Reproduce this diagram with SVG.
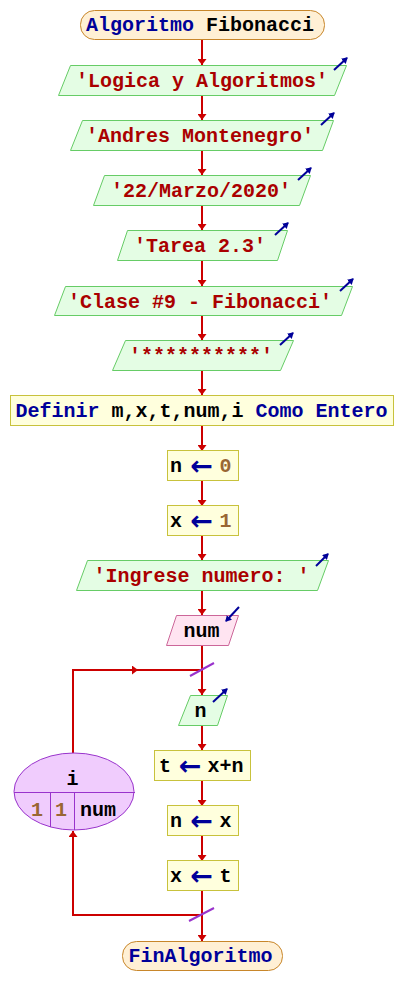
<svg xmlns="http://www.w3.org/2000/svg" width="404" height="1005" viewBox="0 0 404 1005">
<style>
.t{font-family:"Liberation Mono","Courier New",monospace;font-size:20px;font-weight:bold}
.kw{fill:#000099}.str{fill:#aa0000}.num{fill:#996633}.id{fill:#000000}
.arr{font-family:"DejaVu Sans",sans-serif;font-size:27px;font-weight:bold;fill:#000099}
.io{fill:#e4fde4;stroke:#66cc66;stroke-width:1}
.proc{fill:#ffffdd;stroke:#c8c23c;stroke-width:1}
.term{fill:#fff0d5;stroke:#c8862a;stroke-width:1}
.inp{fill:#ffe4f1;stroke:#cc6699;stroke-width:1}
.loop{fill:#f0ccfd;stroke:#9933cc;stroke-width:1}
.edge{fill:none;stroke:#cc0000;stroke-width:2}
.icon{fill:none;stroke:#000099;stroke-width:2;marker-end:url(#ih)}
.slash{stroke:#9933cc;stroke-width:2}
</style>
<defs>
<marker id="ah" viewBox="0 0 6 9" refX="6" refY="4.5" markerWidth="6" markerHeight="9" markerUnits="userSpaceOnUse" orient="auto"><path d="M0,0 L6,4.5 L0,9 z" fill="#cc0000"/></marker>
<marker id="ih" viewBox="0 0 6 7" refX="5" refY="3.5" markerWidth="6" markerHeight="7" markerUnits="userSpaceOnUse" orient="auto"><path d="M0,0 L6,3.5 L0,7 z" fill="#000099"/></marker>
</defs>

<g id="connectors">
<path class="edge" marker-end="url(#ah)" d="M202,39 V65"/>
<path class="edge" marker-end="url(#ah)" d="M202,95 V120"/>
<path class="edge" marker-end="url(#ah)" d="M202,150 V175"/>
<path class="edge" marker-end="url(#ah)" d="M202,205 V230"/>
<path class="edge" marker-end="url(#ah)" d="M202,260 V286"/>
<path class="edge" marker-end="url(#ah)" d="M202,315 V340"/>
<path class="edge" marker-end="url(#ah)" d="M202,370 V395"/>
<path class="edge" marker-end="url(#ah)" d="M202,425 V451"/>
<path class="edge" marker-end="url(#ah)" d="M202,481 V506"/>
<path class="edge" marker-end="url(#ah)" d="M202,536 V560"/>
<path class="edge" marker-end="url(#ah)" d="M202,590 V615"/>
<path class="edge" marker-end="url(#ah)" d="M202,645 V695"/>
<path class="edge" marker-end="url(#ah)" d="M202,725 V750"/>
<path class="edge" marker-end="url(#ah)" d="M202,780 V806"/>
<path class="edge" marker-end="url(#ah)" d="M202,836 V861"/>
<path class="edge" marker-end="url(#ah)" d="M202,891 V941"/>
<path class="edge" marker-end="url(#ah)" d="M73,753 V670 H138"/>
<path class="edge" d="M137,670 H202"/>
<path class="edge" marker-end="url(#ah)" d="M202,915 H73 V831"/>
<line class="slash" x1="190" y1="676" x2="214" y2="663"/>
<line class="slash" x1="189" y1="921" x2="214" y2="908"/>
</g>

<g id="start">
<rect class="term" x="80.5" y="10.5" width="244" height="29" rx="14"/>
<text class="t" x="200" y="31" text-anchor="middle"><tspan class="kw">Algoritmo</tspan><tspan class="id"> Fibonacci</tspan></text>
</g>

<g id="out1">
<polygon class="io" points="70.5,65.5 346.5,65.5 334.5,95.5 58.5,95.5"/>
<text class="t str" x="202" y="87" text-anchor="middle">'Logica y Algoritmos'</text>
<line class="icon" x1="334" y1="70" x2="347" y2="58"/>
</g>

<g id="out2">
<polygon class="io" points="82.5,120.5 333.5,120.5 322.5,150.5 70.5,150.5"/>
<text class="t str" x="200" y="142" text-anchor="middle">'Andres Montenegro'</text>
<line class="icon" x1="321" y1="125" x2="334" y2="113"/>
</g>

<g id="out3">
<polygon class="io" points="104.5,175.5 310.5,175.5 299.5,205.5 93.5,205.5"/>
<text class="t str" x="201" y="197" text-anchor="middle">'22/Marzo/2020'</text>
<line class="icon" x1="298" y1="180" x2="311" y2="168"/>
</g>

<g id="out4">
<polygon class="io" points="127.5,230.5 287.5,230.5 277.5,260.5 117.5,260.5"/>
<text class="t str" x="200" y="252" text-anchor="middle">'Tarea 2.3'</text>
<line class="icon" x1="275" y1="235" x2="288" y2="223"/>
</g>

<g id="out5">
<polygon class="io" points="65.5,286.5 352.5,286.5 341.5,315.5 54.5,315.5"/>
<text class="t str" x="200" y="308" text-anchor="middle">'Clase #9 - Fibonacci'</text>
<line class="icon" x1="340" y1="291" x2="353" y2="279"/>
</g>

<g id="out6">
<polygon class="io" points="125.5,340.5 293.5,340.5 280.5,370.5 112.5,370.5"/>
<text class="t str" x="201" y="362" text-anchor="middle">'**********'</text>
<line class="icon" x1="280" y1="345" x2="293" y2="333"/>
</g>

<g id="define">
<rect class="proc" x="10.5" y="395.5" width="383" height="30"/>
<text class="t" x="201.5" y="417" text-anchor="middle"><tspan class="kw">Definir</tspan><tspan class="id"> m,x,t,num,i </tspan><tspan class="kw">Como Entero</tspan></text>
</g>

<g id="assign_n0">
<rect class="proc" x="167.5" y="450.5" width="71" height="30"/>
<text class="t id" x="176" y="472" text-anchor="middle">n</text>
<text class="arr" x="201.5" y="475" text-anchor="middle">←</text>
<text class="t num" x="225.5" y="472" text-anchor="middle">0</text>
</g>

<g id="assign_x1">
<rect class="proc" x="167.5" y="505.5" width="71" height="30"/>
<text class="t id" x="176" y="527" text-anchor="middle">x</text>
<text class="arr" x="201.5" y="530" text-anchor="middle">←</text>
<text class="t num" x="225.5" y="527" text-anchor="middle">1</text>
</g>

<g id="out7">
<polygon class="io" points="87.5,560.5 328.5,560.5 317.5,590.5 76.5,590.5"/>
<text class="t str" x="201.5" y="582" text-anchor="middle">'Ingrese numero: '</text>
<line class="icon" x1="316" y1="566" x2="328" y2="554"/>
</g>

<g id="read_num">
<polygon class="inp" points="176.5,615.5 238.5,615.5 228.5,645.5 166.5,645.5"/>
<text class="t id" x="201.5" y="637" text-anchor="middle">num</text>
<line class="icon" x1="239" y1="607" x2="226" y2="621"/>
</g>

<g id="loop_for">
<ellipse class="loop" cx="74" cy="791.5" rx="60" ry="38.5"/>
<line class="loop" x1="14" y1="792.5" x2="135" y2="792.5"/>
<line class="loop" x1="50.5" y1="792.5" x2="50.5" y2="827"/>
<line class="loop" x1="74.5" y1="792.5" x2="74.5" y2="830"/>
<text class="t id" x="72.5" y="785" text-anchor="middle">i</text>
<text class="t num" x="37" y="816" text-anchor="middle">1</text>
<text class="t num" x="61" y="816" text-anchor="middle">1</text>
<text class="t id" x="98" y="816" text-anchor="middle">num</text>
</g>

<g id="out_n">
<polygon class="io" points="190.5,695.5 227.5,695.5 217.5,725.5 178.5,725.5"/>
<text class="t id" x="200.5" y="717" text-anchor="middle">n</text>
<line class="icon" x1="213" y1="702" x2="227" y2="689"/>
</g>

<g id="assign_t">
<rect class="proc" x="154.5" y="750.5" width="96" height="30"/>
<text class="t id" x="165" y="772" text-anchor="middle">t</text>
<text class="arr" x="190" y="775" text-anchor="middle">←</text>
<text class="t id" x="225.5" y="772" text-anchor="middle">x+n</text>
</g>

<g id="assign_n">
<rect class="proc" x="167.5" y="805.5" width="71" height="30"/>
<text class="t id" x="176" y="827" text-anchor="middle">n</text>
<text class="arr" x="201.5" y="830" text-anchor="middle">←</text>
<text class="t id" x="225.5" y="827" text-anchor="middle">x</text>
</g>

<g id="assign_x">
<rect class="proc" x="167.5" y="860.5" width="71" height="30"/>
<text class="t id" x="176" y="882" text-anchor="middle">x</text>
<text class="arr" x="201.5" y="885" text-anchor="middle">←</text>
<text class="t id" x="225.5" y="882" text-anchor="middle">t</text>
</g>

<g id="end">
<rect class="term" x="122.5" y="941.5" width="160" height="29" rx="14"/>
<text class="t kw" x="200.5" y="962" text-anchor="middle">FinAlgoritmo</text>
</g>
</svg>
